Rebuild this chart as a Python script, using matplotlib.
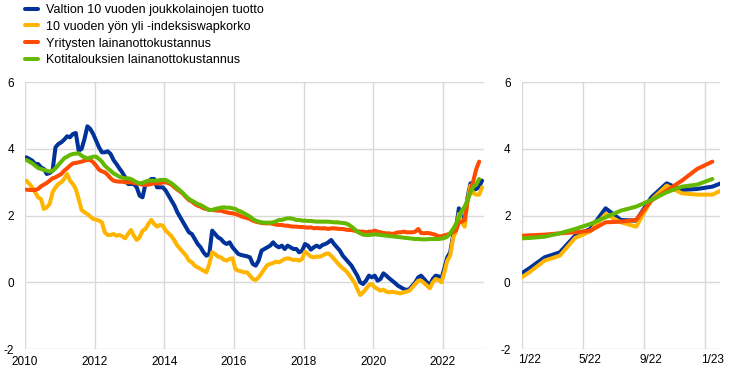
import numpy as np
import matplotlib
matplotlib.use('Agg')
import matplotlib.pyplot as plt

plt.rcParams['font.family'] = ['Liberation Sans', 'DejaVu Sans']
plt.rcParams['axes.unicode_minus'] = False

labels = ['Valtion 10 vuoden joukkolainojen tuotto',
          '10 vuoden yön yli -indeksiswapkorko',
          'Yritysten lainanottokustannus',
          'Kotitalouksien lainanottokustannus']
colors = ['#003299', '#ffb400', '#ff4b00', '#65b800']

# monthly values, Jan 2010 onwards
gov_yield = [
    3.75, 3.70, 3.65, 3.55, 3.55, 3.45, 3.40, 3.25, 3.28, 3.35, 4.05, 4.15,
    4.20, 4.28, 4.38, 4.35, 4.45, 4.48, 3.95, 4.00, 4.30, 4.68, 4.60, 4.45,
    4.25, 4.05, 3.90, 3.90, 3.93, 3.85, 3.67, 3.55, 3.42, 3.30, 3.15, 2.95,
    2.95, 2.95, 2.85, 2.60, 2.55, 2.95, 3.00, 3.10, 3.10, 2.85, 2.85, 2.85,
    2.75, 2.60, 2.45, 2.30, 2.10, 1.95, 1.80, 1.65, 1.50, 1.45, 1.30, 1.15,
    1.05, 0.90, 0.80, 0.85, 1.55, 1.45, 1.35, 1.30, 1.20, 1.15, 1.20, 1.05,
    0.95, 0.85, 0.82, 0.80, 0.78, 0.75, 0.55, 0.50, 0.65, 0.95, 1.00, 1.05,
    1.10, 1.20, 1.10, 1.05, 1.10, 1.00, 1.10, 1.05, 1.00, 1.00, 0.90, 0.95,
    1.15, 1.10, 0.98, 1.05, 1.10, 1.05, 1.12, 1.15, 1.20, 1.27, 1.15, 1.05,
    0.95, 0.80, 0.70, 0.60, 0.50, 0.35, 0.20, 0.00, -0.05, 0.05, 0.20, 0.15,
    0.20, 0.05, 0.10, 0.27, 0.20, 0.12, 0.05, -0.02, -0.10, -0.15, -0.20, -0.23,
    -0.20, -0.10, 0.00, 0.15, 0.20, 0.10, 0.00, -0.08, 0.10, 0.20, 0.18, 0.12,
    0.42, 0.75, 0.90, 1.40, 1.60, 2.22, 1.87, 1.85, 2.55, 2.97, 2.77, 2.80,
    2.87, 3.05]

ois_swap = [
    3.05, 2.95, 2.85, 2.70, 2.55, 2.50, 2.20, 2.25, 2.35, 2.70, 2.85, 2.95,
    3.00, 3.10, 3.25, 3.05, 2.95, 2.80, 2.50, 2.17, 2.10, 2.05, 1.97, 1.90,
    1.88, 1.85, 1.80, 1.50, 1.42, 1.42, 1.45, 1.40, 1.42, 1.38, 1.32, 1.45,
    1.57, 1.40, 1.27, 1.35, 1.55, 1.60, 1.75, 1.87, 1.75, 1.67, 1.72, 1.70,
    1.55, 1.47, 1.38, 1.25, 1.10, 1.00, 0.90, 0.80, 0.65, 0.60, 0.50, 0.45,
    0.40, 0.35, 0.30, 0.55, 0.90, 0.85, 0.77, 0.75, 0.68, 0.65, 0.70, 0.72,
    0.40, 0.35, 0.33, 0.30, 0.30, 0.20, 0.10, 0.07, 0.15, 0.27, 0.40, 0.52,
    0.55, 0.58, 0.62, 0.60, 0.65, 0.70, 0.72, 0.70, 0.67, 0.68, 0.65, 0.70,
    0.92, 0.85, 0.77, 0.75, 0.77, 0.77, 0.80, 0.85, 0.87, 0.80, 0.70, 0.60,
    0.50, 0.42, 0.35, 0.25, 0.12, 0.00, -0.20, -0.38, -0.30, -0.20, -0.08, -0.05,
    -0.15, -0.20, -0.25, -0.22, -0.28, -0.30, -0.28, -0.30, -0.32, -0.33, -0.30, -0.28,
    -0.25, -0.15, -0.05, 0.05, 0.05, -0.02, -0.10, -0.18, 0.00, 0.10, 0.07, 0.00,
    0.30, 0.65, 0.80, 1.33, 1.53, 2.05, 1.80, 1.67, 2.47, 2.90, 2.67, 2.63,
    2.63, 2.85]

corp_cost = [
    2.78, 2.77, 2.77, 2.77, 2.80, 2.88, 2.93, 2.98, 3.05, 3.12, 3.15, 3.20,
    3.25, 3.35, 3.42, 3.50, 3.57, 3.58, 3.60, 3.62, 3.65, 3.67, 3.67, 3.60,
    3.50, 3.38, 3.33, 3.30, 3.22, 3.12, 3.05, 3.03, 3.02, 3.02, 3.00, 3.00,
    3.00, 2.98, 2.97, 2.95, 2.93, 2.92, 2.93, 2.95, 2.97, 2.97, 2.97, 3.00,
    3.00, 2.97, 2.93, 2.85, 2.78, 2.72, 2.65, 2.55, 2.47, 2.42, 2.35, 2.30,
    2.27, 2.22, 2.20, 2.17, 2.17, 2.16, 2.15, 2.15, 2.12, 2.10, 2.08, 2.07,
    2.05, 2.02, 1.98, 1.95, 1.93, 1.90, 1.85, 1.82, 1.80, 1.78, 1.77, 1.77,
    1.77, 1.75, 1.73, 1.72, 1.72, 1.70, 1.70, 1.68, 1.67, 1.67, 1.66, 1.66,
    1.65, 1.64, 1.65, 1.62, 1.63, 1.62, 1.62, 1.62, 1.60, 1.62, 1.62, 1.61,
    1.60, 1.60, 1.58, 1.57, 1.57, 1.55, 1.53, 1.52, 1.52, 1.50, 1.52, 1.52,
    1.55, 1.52, 1.50, 1.48, 1.47, 1.47, 1.45, 1.47, 1.50, 1.50, 1.52, 1.50,
    1.50, 1.50, 1.52, 1.60, 1.48, 1.47, 1.48, 1.47, 1.45, 1.42, 1.38, 1.38,
    1.41, 1.43, 1.47, 1.50, 1.55, 1.80, 1.82, 1.87, 2.45, 2.75, 3.05, 3.40,
    3.62]

hh_cost = [
    3.67, 3.62, 3.57, 3.50, 3.43, 3.40, 3.37, 3.35, 3.32, 3.35, 3.42, 3.52,
    3.62, 3.72, 3.77, 3.82, 3.85, 3.86, 3.87, 3.80, 3.75, 3.72, 3.74, 3.77,
    3.77, 3.70, 3.62, 3.50, 3.42, 3.35, 3.27, 3.22, 3.17, 3.14, 3.12, 3.12,
    3.10, 3.05, 3.00, 2.97, 2.98, 3.02, 3.05, 3.05, 3.05, 3.05, 3.07, 3.07,
    3.07, 3.02, 2.97, 2.90, 2.82, 2.75, 2.67, 2.58, 2.50, 2.45, 2.40, 2.35,
    2.32, 2.27, 2.22, 2.17, 2.17, 2.20, 2.22, 2.24, 2.25, 2.24, 2.24, 2.22,
    2.20, 2.15, 2.12, 2.07, 2.02, 1.97, 1.90, 1.85, 1.82, 1.80, 1.79, 1.79,
    1.79, 1.80, 1.83, 1.87, 1.87, 1.90, 1.92, 1.92, 1.90, 1.87, 1.87, 1.85,
    1.85, 1.84, 1.84, 1.83, 1.82, 1.82, 1.82, 1.82, 1.82, 1.81, 1.80, 1.80,
    1.79, 1.78, 1.77, 1.73, 1.67, 1.60, 1.52, 1.47, 1.43, 1.42, 1.42, 1.43,
    1.44, 1.43, 1.42, 1.41, 1.40, 1.39, 1.38, 1.37, 1.36, 1.35, 1.34, 1.33,
    1.32, 1.31, 1.30, 1.30, 1.29, 1.29, 1.29, 1.30, 1.30, 1.30, 1.30, 1.31,
    1.33, 1.37, 1.47, 1.60, 1.75, 1.95, 2.15, 2.27, 2.47, 2.70, 2.87, 2.93,
    3.10]

series = [gov_yield, ois_swap, corp_cost, hh_cost]

year_ticks = list(range(2010, 2023, 2))
zoom_ticks = [2022, 2022 + 4 / 12, 2022 + 8 / 12, 2023]
zoom_labels = ['1/22', '5/22', '9/22', '1/23']


def months(n):
    return 2010 + (np.arange(n) + 0.5) / 12


fig = plt.figure(figsize=(7.44, 3.75), dpi=100)
ax1 = fig.add_axes([25 / 744, 26 / 375, 459 / 744, 266.7 / 375])
ax2 = fig.add_axes([521.7 / 744, 26 / 375, 198.3 / 744, 266.7 / 375])

for ax in (ax1, ax2):
    for vals, c, lab in zip(series, colors, labels):
        ax.plot(months(len(vals)), vals, color=c, lw=2.9, label=lab,
                solid_capstyle='round', solid_joinstyle='round')
    ax.set_ylim(-2, 6)
    ax.set_yticks(range(-2, 7, 2))
    ax.set_yticklabels([str(v) for v in range(-2, 7, 2)])
    ax.grid(True, color='#d9d9d9', lw=1.0)
    ax.set_axisbelow(True)
    for s in ax.spines.values():
        s.set_visible(False)
    ax.tick_params(which='both', length=0, labelsize=8.5, colors='#000000')
    ax.tick_params(axis='y', pad=8)
    ax.tick_params(axis='x', pad=5)

ax1.set_xlim(2010, 2023.18)
ax1.set_xticks(year_ticks)
ax1.set_xticklabels([str(y) for y in year_ticks])

ax2.set_xlim(2022, 2023 + 1 / 12)
ax2.set_xticks(zoom_ticks)
ax2.set_xticklabels([])
ax2.set_xticks([t + 1 / 24 for t in zoom_ticks], minor=True)
ax2.set_xticklabels(zoom_labels, minor=True)

handles, _ = ax1.get_legend_handles_labels()
fig.legend(handles, labels, loc='upper left', bbox_to_anchor=(25 / 744, 1 - 4 / 375),
           frameon=False, fontsize=9, handlelength=1.0, handletextpad=0.7,
           labelspacing=0.38, borderpad=0, borderaxespad=0)

fig.savefig('out.png', dpi=100)
